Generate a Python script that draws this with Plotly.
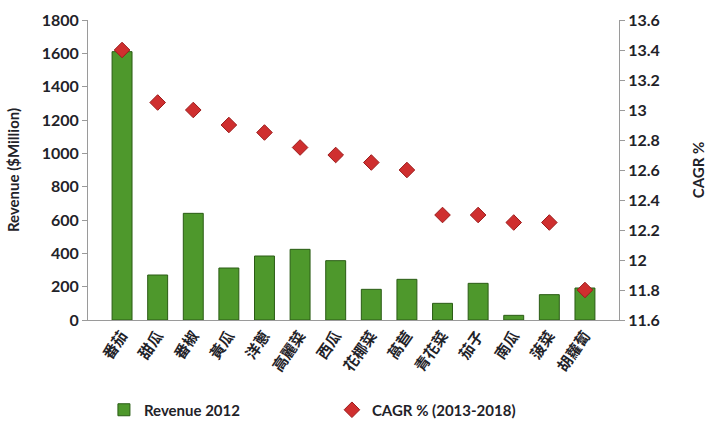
import plotly.graph_objects as go

categories = ["番茄", "甜瓜", "番椒", "黃瓜", "洋蔥", "高麗菜", "西瓜", "花椰菜", "萵苣", "青花菜", "茄子", "南瓜", "菠菜", "胡蘿蔔"]
revenue_2012 = [1610, 270, 640, 312, 384, 424, 356, 184, 244, 100, 220, 28, 152, 192]
cagr = [13.4, 13.05, 13.0, 12.9, 12.85, 12.75, 12.7, 12.65, 12.6, 12.3, 12.3, 12.25, 12.25, 11.8]
left_ticks = [0, 200, 400, 600, 800, 1000, 1200, 1400, 1600, 1800]
right_ticks = [11.6, 11.8, 12.0, 12.2, 12.4, 12.6, 12.8, 13.0, 13.2, 13.4, 13.6]
right_ticktext = ["11.6", "11.8", "12", "12.2", "12.4", "12.6", "12.8", "13", "13.2", "13.4", "13.6"]

FONT = "Lato, 'Noto Sans CJK TC', sans-serif"
TXT = "#1f2329"

fig = go.Figure()
fig.add_trace(go.Bar(
    x=categories, y=revenue_2012, name="Revenue 2012",
    marker=dict(color="#4e982c", line=dict(color="#2a5c14", width=1)),
))
fig.add_trace(go.Scatter(
    x=categories, y=cagr, name="CAGR % (2013-2018)", yaxis="y2", mode="markers",
    marker=dict(symbol="diamond", size=12, color="#cf2f2f", line=dict(color="#9c1c1c", width=1)),
))

fig.update_layout(
    width=720, height=421,
    margin=dict(l=88, r=101, t=20, b=101, autoexpand=False),
    paper_bgcolor="white", plot_bgcolor="white",
    font=dict(family=FONT, color=TXT, size=13),
    bargap=0.44,
    showlegend=True,
    legend=dict(orientation="h", x=0.03, y=-0.30, xanchor="left", yanchor="middle",
                font=dict(size=15, family=FONT, color=TXT, weight="bold"),
                itemwidth=30, entrywidth=183, tracegroupgap=0),
    xaxis=dict(
        showline=True, linecolor="#9a9a9a", linewidth=1,
        ticks="", tickangle=-55,
        tickfont=dict(family="'Noto Sans CJK TC', sans-serif", size=15, color=TXT, weight="bold"),
        showgrid=False,
    ),
    yaxis=dict(
        range=[0, 1800], tickvals=left_ticks,
        showline=True, linecolor="#9a9a9a", linewidth=1,
        ticks="outside", ticklen=5, tickcolor="#9a9a9a",
        tickfont=dict(size=16, family=FONT, color=TXT, weight="bold"),
        showgrid=False, zeroline=False,
        title=dict(text="Revenue ($Million)", font=dict(size=15, family=FONT, color=TXT, weight="bold"), standoff=18),
    ),
    yaxis2=dict(
        range=[11.6, 13.6], tickvals=right_ticks, ticktext=right_ticktext,
        overlaying="y", side="right",
        showline=True, linecolor="#9a9a9a", linewidth=1,
        ticks="outside", ticklen=5, tickcolor="#9a9a9a",
        tickfont=dict(size=16, family=FONT, color=TXT, weight="bold"),
        showgrid=False, zeroline=False,
        title=dict(text="CAGR %", font=dict(size=15, family=FONT, color=TXT, weight="bold"), standoff=34),
    ),
)

fig.write_html("out.html")
